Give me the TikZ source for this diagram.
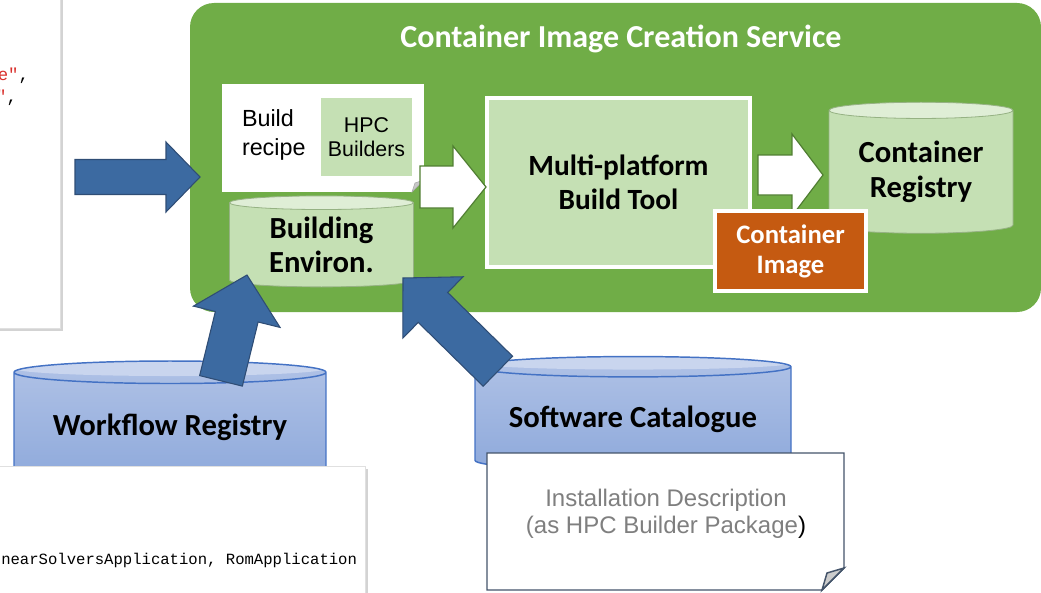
\documentclass[tikz,border=0pt]{standalone}
\usepackage{fontspec}
\setmainfont{Carlito}
\newfontfamily\arialfont{Liberation Sans}
\newfontfamily\courfont{Liberation Mono}
\usepackage{tikz}
\usetikzlibrary{shapes.geometric,shadows,calc}
\definecolor{svcgreen}{HTML}{70AD47}
\definecolor{lightgreen}{HTML}{C5E0B4}
\definecolor{darkgreen}{HTML}{507E32}
\definecolor{arrowblue}{HTML}{3C6AA1}
\definecolor{arrowedge}{HTML}{2F4D75}
\definecolor{drumtop}{HTML}{C9D5EE}
\definecolor{drumhigh}{HTML}{B0C2E6}
\definecolor{drumlow}{HTML}{8EA9DB}
\definecolor{drumedge}{HTML}{4472C4}
\definecolor{imgorange}{HTML}{C55A11}
\definecolor{docedge}{HTML}{44546A}
\definecolor{codered}{HTML}{D9302C}
\definecolor{textgrey}{HTML}{7F7F7F}
\def\px{0.75pt}

\begin{document}
\begin{tikzpicture}[x=0.75pt, y=-0.75pt,
  every node/.style={inner sep=0pt, outer sep=0pt},
  heavytext/.style={font=\fontsize{23}{26}\selectfont\bfseries, align=center},
  sanstext/.style={font=\arialfont\fontsize{18}{20}\selectfont, align=center},
  codetext/.style={font=\courfont\fontsize{11.7}{14}\selectfont},
  paper/.style={fill=white, draw=black!12, drop shadow={shadow xshift=2.5pt, shadow yshift=-2.5pt, opacity=.35}},
  block/.style={fill=lightgreen, draw=white, line width=2.5pt},
  greendrum/.style={cylinder, shape border rotate=90, draw=darkgreen!60, line width=.6pt,
    cylinder uses custom fill, cylinder body fill=lightgreen, cylinder end fill=lightgreen!55!white, heavytext},
  bluedrum/.style 2 args={cylinder, shape border rotate=90, draw=drumedge, line width=1.1pt, heavytext,
    path picture={
      \shade[top color=drumhigh, bottom color=drumlow] (path picture bounding box.north west) rectangle (path picture bounding box.south east);
      \fill[drumtop] ([yshift=-#2*\px]path picture bounding box.north) ellipse [x radius=#1, y radius=#2];
    }},
  fatarrow/.style={fill=arrowblue, draw=arrowedge, line width=.8pt},
  hollowarrow/.style={fill=white, draw=darkgreen, line width=.9pt},
  docline/.style={draw=docedge, line width=1.1pt}]

  \useasboundingbox (0,0) rectangle (1041,592);
  \clip (0,0) rectangle (1041,592);

  % Pieces of code on the left
  \node[paper, minimum width=80*\px, minimum height=348*\px] (jsondoc) at (20,154) {};
  \node[codetext, font=\courfont\fontsize{13}{15}\selectfont, anchor=base east] (jsonline1) at (29,80) {\color{codered}e"\color{black},};
  \node[codetext, font=\courfont\fontsize{13}{15}\selectfont, anchor=base east] (jsonline2) at (17,103) {\color{codered}"\color{black},};

  % Service
  \node[fill=svcgreen, rounded corners=18pt, minimum width=851*\px, minimum height=309*\px] (service) at (615.5,157.5) {};
  \node[heavytext, font=\fontsize{24}{28}\selectfont\bfseries, text=white] (title) at (621,39) {Container Image Creation Service};

  \node[fill=white, minimum width=202*\px, minimum height=108*\px] (recipe) at (323,138) {};
  \fill[svcgreen] (recipe.south east) -- ++(0,-12) -- ++(-12,12) -- cycle;
  \filldraw[fill=black!22, draw=black!35, line width=.4pt] ([shift={(0,-12)}]recipe.south east) -- ([shift={(-12,0)}]recipe.south east) -- ([shift={(-9,-9)}]recipe.south east) -- cycle;
  \node[sanstext, font=\arialfont\fontsize{17.5}{22}\selectfont, align=left, anchor=west] (recipetext) at (242,135) {Build\\recipe};
  \node[fill=lightgreen, sanstext, font=\arialfont\fontsize{16}{18}\selectfont, minimum width=91*\px, minimum height=78*\px] (hpc) at (366.5,137) {HPC\\Builders};

  \node[greendrum, minimum width=184*\px, minimum height=91*\px, aspect=.13] (environ) at (321.5,245) {Building\\Environ.};
  \node[block, heavytext, font=\fontsize{22}{25.5}\selectfont\bfseries, minimum width=263*\px, minimum height=169*\px] (tool) at (618.5,182.5) {Multi-platform\\Build Tool};
  \node[greendrum, minimum width=184*\px, minimum height=131*\px, aspect=.13] (registry) at (921,172) {Container\\Registry};

  % White arrows
  \coordinate (recipetip) at (486,187);
  \coordinate (tooltip) at (823,175);
  \foreach \t/\len/\sw/\hw/\hl in {recipetip/66/21/41/33, tooltip/65/20/41/31}
    \draw[hollowarrow, shift={(\t)}] (0,0) -- (-\hl,-\hw) -- (-\hl,-\sw) -- (-\len,-\sw) -- (-\len,\sw) -- (-\hl,\sw) -- (-\hl,\hw) -- cycle;

  \node[fill=imgorange, draw=white, line width=2.5pt, heavytext, font=\fontsize{20}{22.5}\selectfont\bfseries, text=white, minimum width=151*\px, minimum height=80*\px] (image) at (790.5,251) {Container\\Image};

  % Sources
  \node[bluedrum={156}{7.5}, minimum width=312*\px, minimum height=120*\px, aspect=.096] (workflow) at (170,427) {Workflow Registry};
  \node[bluedrum={158}{6.5}, minimum width=316*\px, minimum height=114*\px, aspect=.082] (catalogue) at (633,419) {Software Catalogue};

  % Blue arrows
  \coordinate (jsontip) at (200,177);
  \coordinate (workflowtip) at (247,275);
  \coordinate (cataloguetip) at (403,278);
  \foreach \t/\ang/\len/\sw/\hw/\hl in {jsontip/0/125/17.5/35/34, workflowtip/76.2/109/22/44.6/43, cataloguetip/135.5/133/21/43/42}
    \draw[fatarrow, shift={(\t)}, rotate=\ang] (0,0) -- (-\hl,-\hw) -- (-\hl,-\sw) -- (-\len,-\sw) -- (-\len,\sw) -- (-\hl,\sw) -- (-\hl,\hw) -- cycle;

  \node[paper, minimum width=385*\px, minimum height=146*\px] (codedoc) at (172.5,539) {};
  \node[codetext, anchor=base east] (codeline) at (357,564) {nearSolversApplication, RomApplication};

  % Installation description
  \node[minimum width=357*\px, minimum height=137*\px] (inst) at (665.5,521.5) {};
  \draw[docline, fill=white] (inst.north west) -- (inst.north east) -- ([shift={(0,-22)}]inst.south east) -- ([shift={(-22,0)}]inst.south east) -- (inst.south west) -- cycle;
  \filldraw[docline, fill=black!20] ([shift={(0,-22)}]inst.south east) -- ([shift={(-22,0)}]inst.south east) -- ([shift={(-17,-17)}]inst.south east) -- cycle;
  \node[sanstext, text=textgrey] (instlabel) at (666,514) {Installation Description\\(as HPC Builder Package\textcolor{black}{)}};

\end{tikzpicture}
\end{document}
